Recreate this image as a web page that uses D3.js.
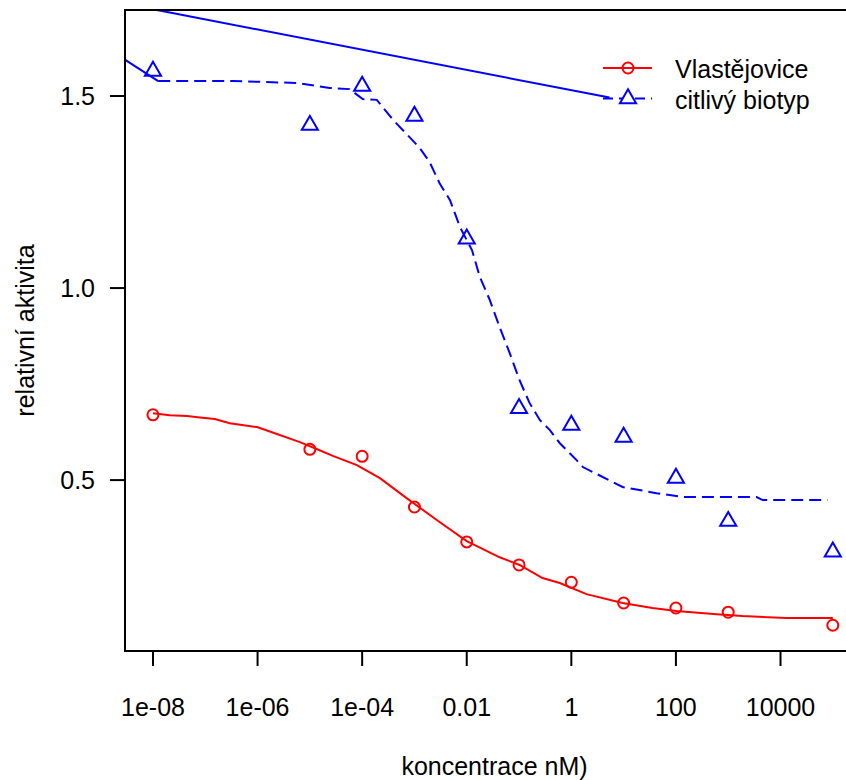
<!DOCTYPE html>
<html>
<head>
<meta charset="utf-8">
<script src="https://cdn.jsdelivr.net/npm/d3@7"></script>
<style>
  html, body { margin: 0; padding: 0; background: #fff; }
  text { font-family: "Liberation Sans", Arial, Helvetica, sans-serif; }
</style>
</head>
<body>
<svg id="chart" width="846" height="780"></svg>
<script>
// ---- data ----
const concLog = [-8, -5, -4, -3, -2, -1, 0, 1, 2, 3, 5];            // log10 concentration (nM)
const vlastejovice = [0.670, 0.580, 0.562, 0.430, 0.339, 0.279, 0.234, 0.180, 0.167, 0.156, 0.122];
const citlivy = [1.565, 1.424, 1.526, 1.448, 1.128, 0.687, 0.643, 0.612, 0.505, 0.393, 0.313];

// fitted curves (log10 x, y)
const fitRedX = [-8.00, -7.68, -7.35, -7.10, -6.82, -6.53, -6.01, -5.63, -5.19, -4.87, -4.56, -4.10, -3.66, -3.15, -2.52, -2.00, -1.37, -0.99, -0.55, -0.22, 0.29, 0.98, 1.55, 2.01, 2.78, 3.27, 4.12, 5.00];
const fitRedY = [0.674, 0.669, 0.667, 0.663, 0.659, 0.648, 0.638, 0.620, 0.599, 0.581, 0.563, 0.539, 0.505, 0.453, 0.391, 0.341, 0.299, 0.279, 0.245, 0.232, 0.203, 0.180, 0.167, 0.159, 0.151, 0.146, 0.141, 0.141];
const fitBlueX = [-7.90, -6.47, -5.25, -4.62, -4.24, -3.99, -3.72, -3.41, -3.22, -2.90, -2.71, -2.52, -2.32, -2.13, -1.90, -1.75, -1.56, -1.37, -1.18, -0.99, -0.80, -0.60, -0.41, -0.22, 0.10, 0.22, 0.98, 1.63, 2.13, 3.54, 3.66, 4.90];
const fitBlueY = [1.539, 1.539, 1.534, 1.521, 1.518, 1.492, 1.490, 1.438, 1.411, 1.365, 1.328, 1.273, 1.229, 1.159, 1.099, 1.029, 0.969, 0.898, 0.831, 0.760, 0.701, 0.656, 0.630, 0.596, 0.552, 0.534, 0.482, 0.466, 0.456, 0.456, 0.448, 0.448];

// straight blue reference lines (log10 x, y)
const lineTopX = [-8.0, 0.73];
const lineTopY = [1.726, 1.496];
const lineLeftX = [-8.6, -7.9];
const lineLeftY = [1.600, 1.539];

const xTickLog = [-8, -6, -4, -2, 0, 2, 4];
const xTickLabels = ["1e-08", "1e-06", "1e-04", "0.01", "1", "100", "10000"];
const yTicks = [0.5, 1.0, 1.5];
const yTickLabels = ["0.5", "1.0", "1.5"];
const legendLabels = ["Vlastějovice", "citlivý biotyp"];

// ---- layout ----
const svg = d3.select("#chart");
const pL = 125, pR = 860, pT = 10, pB = 651;
const FS = 25;

const x = d3.scaleLog().domain([Math.pow(10, -8.535), Math.pow(10, 5.52)]).range([pL, pR]);
const y = d3.scaleLinear().domain([0.055, 1.724]).range([pB, pT]);
const X = l => x(Math.pow(10, l));

svg.append("defs").append("clipPath").attr("id", "plotclip")
  .append("rect").attr("x", pL).attr("y", pT).attr("width", pR - pL).attr("height", pB - pT);

const plot = svg.append("g").attr("clip-path", "url(#plotclip)");

const line = d3.line().x(d => X(d[0])).y(d => y(d[1]));

// top blue lines
plot.append("path").datum(d3.zip(lineTopX, lineTopY)).attr("d", line)
  .attr("fill", "none").attr("stroke", "#0000FF").attr("stroke-width", 2);
plot.append("path").datum(d3.zip(lineLeftX, lineLeftY)).attr("d", line)
  .attr("fill", "none").attr("stroke", "#0000FF").attr("stroke-width", 2);

// fitted curves
plot.append("path").datum(d3.zip(fitRedX, fitRedY)).attr("d", line)
  .attr("fill", "none").attr("stroke", "#FF0000").attr("stroke-width", 2);
plot.append("path").datum(d3.zip(fitBlueX, fitBlueY)).attr("d", line)
  .attr("fill", "none").attr("stroke", "#0000FF").attr("stroke-width", 2)
  .attr("stroke-dasharray", "12,6");

// triangle path generator (R pch 2)
const R = 9.3;
const tri = (cx, cy) => `M${cx},${cy - R}L${cx + R * 0.866},${cy + R / 2}L${cx - R * 0.866},${cy + R / 2}Z`;

// points
plot.selectAll("circle.v").data(d3.zip(concLog, vlastejovice)).join("circle")
  .attr("class", "v").attr("cx", d => X(d[0])).attr("cy", d => y(d[1])).attr("r", 5.5)
  .attr("fill", "none").attr("stroke", "#FF0000").attr("stroke-width", 2);
plot.selectAll("path.c").data(d3.zip(concLog, citlivy)).join("path")
  .attr("class", "c").attr("d", d => tri(X(d[0]), y(d[1])))
  .attr("fill", "none").attr("stroke", "#0000FF").attr("stroke-width", 2);

// box
svg.append("rect").attr("x", pL).attr("y", pT).attr("width", pR - pL).attr("height", pB - pT)
  .attr("fill", "none").attr("stroke", "#000").attr("stroke-width", 2);

// x axis
const xg = svg.append("g");
xTickLog.forEach((l, i) => {
  const px = X(l);
  xg.append("line").attr("x1", px).attr("x2", px).attr("y1", pB).attr("y2", pB + 15)
    .attr("stroke", "#000").attr("stroke-width", 2);
  xg.append("text").attr("x", px).attr("y", 716).attr("text-anchor", "middle")
    .attr("font-size", FS).attr("fill", "#000").text(xTickLabels[i]);
});

// y axis
const yg = svg.append("g");
yTicks.forEach((v, i) => {
  const py = y(v);
  yg.append("line").attr("x1", pL - 15).attr("x2", pL).attr("y1", py).attr("y2", py)
    .attr("stroke", "#000").attr("stroke-width", 2);
  yg.append("text").attr("x", 95).attr("y", py + 9).attr("text-anchor", "end")
    .attr("font-size", FS).attr("fill", "#000").text(yTickLabels[i]);
});

// axis titles
svg.append("text").attr("x", (pL + pR) / 2 + 2).attr("y", 775).attr("text-anchor", "middle")
  .attr("font-size", FS).attr("fill", "#000").text("koncentrace nM)");
svg.append("text").attr("transform", `translate(34,${(pT + pB) / 2}) rotate(-90)`)
  .attr("text-anchor", "middle").attr("font-size", FS).attr("fill", "#000").text("relativní aktivita");

// legend
const lg = svg.append("g");
const legY = [68, 98.5];
lg.append("line").attr("x1", 603).attr("x2", 652).attr("y1", legY[0]).attr("y2", legY[0])
  .attr("stroke", "#FF0000").attr("stroke-width", 2);
lg.append("circle").attr("cx", 628).attr("cy", legY[0]).attr("r", 5.5)
  .attr("fill", "none").attr("stroke", "#FF0000").attr("stroke-width", 2);
lg.append("line").attr("x1", 603).attr("x2", 652).attr("y1", legY[1]).attr("y2", legY[1])
  .attr("stroke", "#0000FF").attr("stroke-width", 2).attr("stroke-dasharray", "10,6");
lg.append("path").attr("d", tri(628, legY[1]))
  .attr("fill", "#fff").attr("stroke", "#0000FF").attr("stroke-width", 2);
legendLabels.forEach((t, i) => {
  lg.append("text").attr("x", 675).attr("y", legY[i] + 10).attr("font-size", FS)
    .attr("fill", "#000").text(t);
});
</script>
</body>
</html>
